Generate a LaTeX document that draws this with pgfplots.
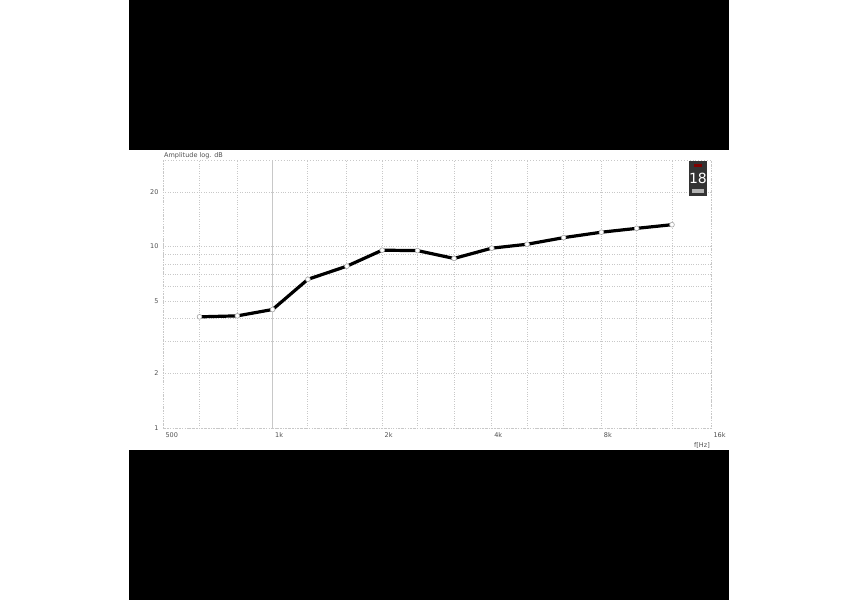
\documentclass[border=0pt]{standalone}
\usepackage{pgfplots}
\pgfplotsset{compat=1.18}
\usepackage{fontspec}
\setmainfont{DejaVu Sans}
\definecolor{gridc}{RGB}{200,200,200}
\definecolor{txtc}{RGB}{80,80,80}
\begin{document}
\begin{tikzpicture}[x=1pt,y=1pt]
\useasboundingbox (0,0) rectangle (858,600);
\fill[white] (0,0) rectangle (858,600);
\fill[black] (129,450) rectangle (729,600);
\fill[black] (129,0) rectangle (729,150);
\begin{axis}[
  at={(163pt,172pt)}, anchor=south west,
  scale only axis, width=548pt, height=268pt,
  xmode=log, ymode=log,
  xmin=500, xmax=16000, ymin=1, ymax=30,
  xtick={500,1000,2000,4000,8000,16000},
  xticklabels={500,1k,2k,4k,8k,16k},
  minor xtick={630,800,1250,1600,2500,3150,5000,6300,10000,12500},
  ytick={1,2,5,10,20},
  yticklabels={1,2,5,10,20},
  minor ytick={3,4,6,7,8,9},
  extra x ticks={1000}, extra x tick labels={},
  extra x tick style={grid=major, major grid style={gridc, solid, line width=0.9pt}},
  grid=both,
  major grid style={gridc, dotted, line width=0.9pt},
  minor grid style={gridc, dotted, line width=0.9pt},
  major tick length=0pt, minor tick length=0pt,
  axis line style={gridc, dotted, line width=0.9pt},
  tick label style={font=\fontsize{6.5}{7}\selectfont, text=txtc},
  xticklabel style={anchor=north west, xshift=-1pt, yshift=-1pt},
  yticklabel style={anchor=east, xshift=-1pt},
  clip=false,
]
\addplot[black, line width=3.2pt, mark=*, mark size=2.4pt,
  mark options={fill=white, draw=gray!70, line width=0.6pt}]
coordinates {
(630,4.1) (800,4.15) (1000,4.5) (1250,6.6) (1600,7.8) (2000,9.55)
(2500,9.5) (3150,8.6) (4000,9.8) (5000,10.3) (6300,11.2) (8000,12.0)
(10000,12.6) (12500,13.2)
};
\node[anchor=south west, inner sep=1pt, font=\fontsize{6.5}{7}\selectfont, text=txtc]
  at (rel axis cs:0,1) {Amplitude log. dB};
\node[anchor=north east, inner sep=1pt, font=\fontsize{6.5}{7}\selectfont, text=txtc]
  at ([yshift=-13pt]rel axis cs:1,0) {f[Hz]};
\node[anchor=north east, fill=black!80, text=white, inner sep=0pt,
  minimum width=17pt, minimum height=35pt, font=\fontsize{14}{15}\selectfont]
  at ([xshift=-4pt,yshift=-1pt]rel axis cs:1,1) (badge) {18};
\fill[red!50!black] ([xshift=5pt,yshift=-3pt]badge.north west) rectangle ([xshift=-5pt,yshift=-6pt]badge.north east);
\fill[gray!60] ([xshift=3pt,yshift=3pt]badge.south west) rectangle ([xshift=-3pt,yshift=7pt]badge.south east);
\end{axis}
\end{tikzpicture}
\end{document}
